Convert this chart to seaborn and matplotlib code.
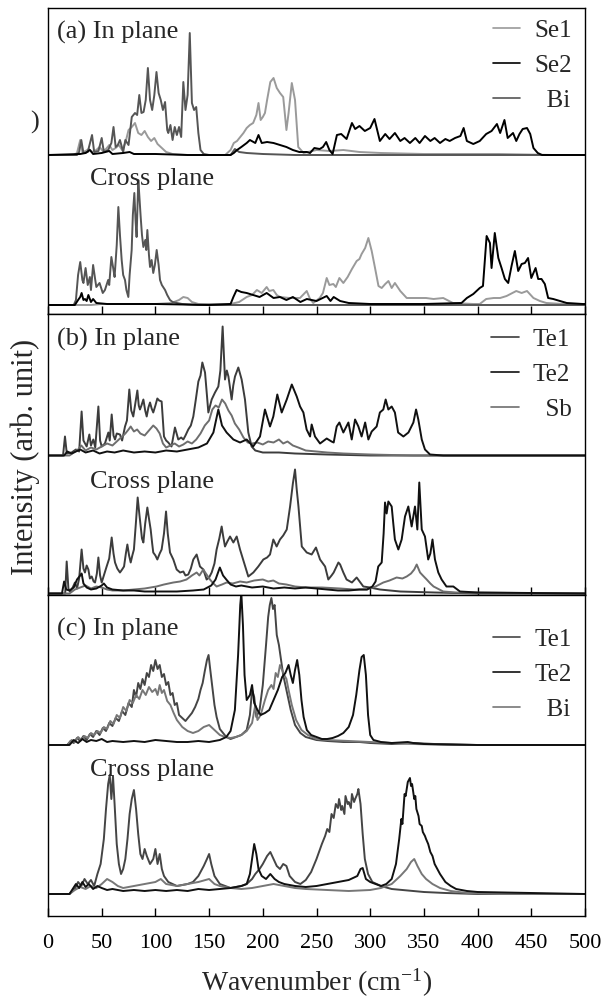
import numpy as np
import seaborn as sns
import matplotlib.pyplot as plt
from matplotlib.lines import Line2D

sns.set_theme(style="white")
plt.rcParams['font.family'] = ['Liberation Serif', 'DejaVu Serif']
plt.rcParams['mathtext.fontset'] = 'custom'
plt.rcParams['mathtext.rm'] = 'Liberation Serif'
plt.rcParams['mathtext.default'] = 'regular'

# (wavenumber, intensity) pairs, intensity in arb. units

# ---- (a) Se1 / Se2 / Bi ----
a_in_se1 = [(0,0),(24,0),(27,2),(30,15),(32,3),(35,4),(38,6),(41,3),(45,5),(48,8),(51,4),(54,6),(57,10),(60,5),(63,7),(66,10),(69,5),(72,12),(75,25),(78,28),(81,32),(84,22),(87,20),(90,24),(93,18),(96,14),(99,17),(102,11),(106,7),(110,3),(116,1),(130,0),(165,0),(170,5),(173,12),(176,14),(179,18),(182,22),(185,27),(188,30),(191,32),(194,40),(196,52),(198,35),(200,38),(202,42),(204,55),(207,73),(210,77),(213,67),(216,62),(219,58),(222,25),(224,42),(227,72),(230,55),(233,8),(238,2),(250,5),(262,4),(275,5),(290,3),(310,2),(350,1),(420,1),(470,0),(500,0)]
a_in_se2 = [(0,0),(30,1),(35,2),(39,5),(42,1),(50,2),(57,4),(60,1),(70,2),(76,3),(80,1),(100,1),(130,0),(170,0),(173,2),(176,5),(180,8),(185,12),(188,15),(193,12),(196,20),(199,12),(204,13),(210,12),(216,10),(222,8),(228,5),(234,3),(241,3),(244,2),(248,7),(253,6),(256,8),(259,13),(262,5),(265,1),(269,20),(273,21),(278,16),(283,32),(286,26),(290,29),(295,24),(300,27),(304,36),(309,14),(314,21),(318,16),(323,22),(328,14),(332,17),(337,12),(342,17),(346,12),(351,19),(356,14),(360,17),(365,12),(370,16),(374,14),(379,17),(384,19),(387,27),(390,14),(396,11),(402,14),(408,21),(413,24),(418,31),(421,22),(425,35),(428,17),(433,22),(436,14),(439,21),(442,26),(446,27),(449,21),(452,7),(456,2),(460,0),(500,0)]
a_in_bi = [(0,0),(27,0),(29,3),(31,15),(33,2),(37,3),(41,20),(43,3),(47,4),(50,17),(52,3),(56,5),(59,12),(61,28),(63,8),(65,10),(67,15),(70,3),(72,15),(75,10),(78,38),(81,42),(83,40),(85,60),(87,42),(89,43),(91,55),(93,87),(95,55),(97,45),(99,60),(101,83),(103,62),(105,55),(107,45),(109,53),(111,25),(112,22),(114,30),(116,15),(118,28),(120,20),(122,28),(124,18),(126,73),(128,45),(130,60),(132,122),(134,52),(136,45),(138,48),(140,22),(142,5),(145,1),(150,0),(170,0),(174,6),(178,3),(185,2),(200,1),(230,0),(500,0)]
a_cr_se1 = [(0,0),(40,0),(50,1),(100,1),(115,2),(122,5),(126,8),(130,7),(134,3),(140,1),(170,1),(178,3),(185,8),(190,10),(194.5,15),(199,12),(203.6,18),(206,14),(209.8,15),(213,10),(216,8),(225,7),(234.6,7),(240.9,14),(244,6),(247,2),(253,7),(256,12),(259.5,27),(262,20),(265.7,21),(268,18),(271.3,27),(275,22),(279,28),(283,36),(287.4,44),(290,46),(292,51),(295.3,57),(298.3,67),(301.4,54),(304.5,37),(307.7,19),(310.7,17),(314,21),(317,24),(320,17),(323,22),(328,14),(334,7),(343,7),(352,7),(359,6),(368,7),(377,2),(396,1),(402,1),(408,6),(415,7),(421,7),(427,9),(436,14),(441,12),(446,14),(452,7),(458,4),(464,2),(480,1),(500,0)]
a_cr_se2 = [(0,0),(25,0),(28,5),(30,8),(31.3,12),(33,5),(34.4,6),(36,4),(37.6,10),(40,3),(42,6),(45,2),(55,1),(100,1),(150,0),(170,1),(172.6,8),(175.6,15),(180,13),(185,12),(191,10),(197,8),(203.6,12),(210,7),(216,8),(222,5),(228,8),(235,3),(241,6),(250,4),(259.5,9),(263,4),(266,8),(272,4),(280,2),(300,1),(350,1),(385,2),(390,7),(396,11),(402,17),(405,19),(408.4,69),(411.5,62),(413,37),(416,72),(419.3,47),(422.3,37),(425.4,26),(428.5,22),(431.6,39),(434.7,54),(437.8,34),(441,41),(444,42),(447,47),(450,27),(454,37),(456.4,26),(459.5,26),(462.6,21),(465.7,7),(470.4,6),(483,2),(498,1),(500,1)]
a_cr_bi = [(0,0),(24,0),(26,5),(28,30),(30,43),(32,25),(33,22),(35,37),(37,20),(39,28),(40,15),(42,40),(44,25),(45,18),(48,22),(51,12),(53,15),(56,25),(57,20),(59,48),(61,35),(62,28),(64,60),(65.5,98),(67,70),(68.6,45),(70,30),(71.7,25),(73,15),(74.8,8),(76,30),(77.9,55),(79,90),(80.4,112),(81.5,85),(82.5,68),(83.5,105),(84.1,125),(85,110),(86.3,88),(87.5,70),(88.8,58),(90.6,65),(91.5,55),(92.5,75),(94,50),(95,38),(96.5,45),(98,32),(99.5,40),(101.2,55),(103,40),(104.3,25),(106,20),(109,15),(111,10),(113.6,5),(116,3),(120,2),(125,1),(140,0),(500,0)]

# ---- (b) Te1 / Te2 / Sb ----
b_in_te1 = [(0,0),(14,0),(15.8,19),(17.5,2),(22,3),(26,6),(29,4),(31.3,44),(33,15),(36,9),(38.5,21),(40,10),(42.2,16),(44,8),(46.9,49),(48.5,15),(50,9),(53,12),(56.2,23),(57.5,15),(59.3,41),(61,20),(62.4,16),(64,22),(67,21),(69,15),(71.7,29),(73.5,35),(75.7,66),(77.5,45),(79.4,39),(81,50),(83.2,65),(84.5,50),(85.6,46),(87,50),(88.8,56),(90.5,45),(91.9,39),(93.5,48),(95,53),(96.5,47),(98,43),(100,50),(101.8,57),(103.5,55),(105.8,54),(107,35),(108,19),(110,15),(112,13),(115,9),(118.2,28),(121.3,16),(124,18),(126,16),(128,20),(130.6,26),(133,30),(135.3,39),(137.5,55),(140,74),(142,80),(143.7,93),(146.2,83),(148,60),(149.3,43),(152.4,56),(155.5,63),(158.6,69),(160.5,85),(162.6,129),(164.8,76),(166.5,85),(168,79),(171,56),(172.5,70),(174.1,79),(177.2,88),(180.3,76),(183.4,56),(186.5,23),(189.6,9),(193,5),(200,3),(215,3),(230,2),(260,1),(300,0),(500,0)]
b_in_te2 = [(0,0),(15,0),(18,4),(22,2),(30,6),(35,3),(42,5),(48,2),(55,4),(62,3),(70,5),(80,3),(90,4),(100,3),(110,5),(120,4),(130,6),(140,8),(148,12),(154,23),(158.6,46),(162,30),(166.3,23),(169,20),(172.6,16),(178.8,13),(185,16),(191,9),(197.4,19),(202,46),(206.7,29),(209.8,39),(213.5,61),(217.6,43),(222.3,56),(227,71),(231.6,59),(234.7,49),(237.8,43),(240.8,26),(244,19),(245.5,31),(248.6,19),(253.3,12),(259.5,17),(264,14),(266,13),(268.8,29),(271.3,33),(275,23),(279.7,33),(282.8,16),(285.9,36),(289,29),(292,19),(295.3,33),(298.3,16),(301.4,24),(306,29),(309,43),(312.2,46),(314.4,56),(316.9,46),(320,49),(323,43),(326,23),(330.9,19),(335.6,23),(340.2,33),(342.7,46),(344.8,36),(348,16),(351,6),(355.7,1),(368,0),(500,0)]
b_in_sb = [(0,0),(20,0),(24,3),(28,6),(31,10),(35,5),(40,8),(45,6),(50,9),(55,12),(60,10),(64,14),(68,18),(72,22),(75,26),(77,29),(80,24),(83,26),(86,22),(90,20),(94,25),(98,30),(101,27),(104,22),(107,12),(110,8),(114,10),(118,12),(122,9),(126,11),(130,14),(134,12),(138,16),(142,22),(146,30),(150,35),(153,46),(156,50),(159,48),(162,56),(165,52),(168,45),(171,40),(174,32),(178,26),(182,18),(186,13),(190,12),(195,13),(200,11),(205,14),(210,13),(215,16),(219,12),(223,14),(228,10),(233,8),(240,5),(250,4),(260,3),(275,2),(300,1),(340,0),(500,0)]
b_cr_te1 = [(0,0),(16,0),(17.4,32),(19,5),(20.5,2),(23,6),(25.1,11),(27,5),(29,15),(31.3,44),(33,25),(34.4,21),(36,28),(37.6,24),(39,15),(40.7,17),(42.5,12),(43.8,11),(45.5,20),(46.9,36),(48.5,18),(50,11),(52,18),(54.6,27),(57,35),(59.3,56),(61,40),(62.4,31),(64.5,25),(67,21),(69,24),(70.8,27),(72.5,40),(73.9,49),(75.5,38),(77,31),(78.5,38),(80,44),(81.8,70),(83.5,96),(85,80),(86.3,67),(87.5,55),(88.8,51),(90.5,70),(92.5,86),(94,75),(95.6,64),(97,50),(98,41),(100,38),(101.8,34),(104,40),(105.8,44),(108,60),(109.9,82),(111.5,60),(113.6,41),(116.7,34),(119.8,24),(123,21),(126,22),(128,18),(130.6,19),(133,25),(135.3,34),(138.4,39),(141.5,27),(144.6,24),(147.7,14),(150,16),(152.4,21),(155,30),(157,44),(159.5,55),(161.7,67),(163,58),(164.8,47),(167,52),(169.5,57),(172.6,51),(175.7,57),(178.8,44),(182.5,31),(186.5,17),(191.2,21),(195.8,27),(200.5,34),(204,36),(206.7,39),(209.8,54),(212.9,47),(216,54),(219,58),(222.3,64),(225.4,87),(228,110),(230,124),(231.5,105),(233.2,87),(236.3,47),(240.9,41),(245.5,39),(249.5,46),(253.3,34),(258,27),(261,14),(264,18),(266,21),(270.4,31),(272,29),(275,21),(278,14),(283,11),(287.4,16),(293.6,7),(299.8,6),(309,4),(328,2),(360,1),(400,0),(500,0)]
b_cr_te2 = [(0,0),(13,0),(15,12),(17,4),(20,3),(24,6),(27,14),(30,18),(31.3,20),(33,10),(36,6),(40,4),(45,5),(50,8),(52,10),(55,6),(60,4),(70,3),(80,3),(90,2),(100,2),(120,2),(135,3),(145,4),(152,8),(156,14),(160,26),(163,18),(166,14),(170,9),(175,7),(180,8),(190,6),(200,7),(210,5),(220,6),(230,5),(240,6),(250,5),(260,4),(270,3),(280,3),(290,4),(297,4),(302,7),(305,12),(307.5,27),(310.7,31),(312.5,60),(313.8,91),(315.3,80),(316.9,92),(320,87),(321.5,70),(323,54),(326.2,44),(329.3,54),(332.4,77),(335.5,87),(338.6,67),(341.7,87),(343.9,64),(345.7,111),(348,64),(351,57),(354,34),(356,40),(358,54),(360.3,34),(363.4,21),(366.5,14),(371,7),(377.4,7),(383.6,2),(400,1),(500,0)]
b_cr_sb = [(0,0),(20,0),(25,4),(30,6),(35,8),(40,5),(45,7),(50,6),(55,4),(60,3),(70,3),(80,4),(90,5),(101,7),(108,9),(116.7,11),(123,12),(129,14),(134,18),(138.4,21),(141,18),(144.6,24),(147,20),(150.8,14),(154,10),(157,7),(162,9),(166.3,11),(172,10),(178.8,12),(185,11),(192,13),(200,14),(205,12),(209.8,13),(215,10),(222,9),(230,7),(241,6),(255,6),(272,5),(285,4),(297,4),(305,7),(312.2,11),(318,13),(324.6,16),(330,15),(334,17),(338,20),(341,24),(343.3,29),(346.4,21),(349,18),(352.6,14),(356,10),(359,7),(368,2),(380,1),(500,0)]

# ---- (c) Te1 / Te2 / Bi ----
c_in_te1 = [(0,0),(18,0),(21,4),(24,2),(27,7),(30,4),(33,9),(36,5),(39,11),(42,8),(45,14),(48,10),(51,17),(54,14),(57,22),(60,19),(63,27),(66,24),(69,34),(72,30),(75,42),(78,38),(80,55),(82,48),(84,62),(86,56),(88,66),(90,60),(92,72),(94,68),(96,80),(98,74),(100,85),(102,76),(104,80),(106,68),(108,71),(110,60),(112,63),(114,50),(116,52),(118,40),(120,42),(122,30),(125,27),(128,24),(131,28),(134,32),(137,38),(140,46),(142,55),(144,62),(146,74),(148,85),(149.5,90),(151,76),(153,58),(155,40),(157,28),(160,16),(163,12),(166,8),(170,6),(175,8),(180,10),(185,15),(188,30),(190,55),(192,48),(194,28),(197,35),(200,60),(203,100),(205,128),(206.5,140),(208,147),(209.5,136),(211,140),(213,110),(215,100),(217,85),(219,70),(222,55),(226,35),(230,20),(235,12),(240,8),(250,5),(260,4),(275,3),(290,3),(300,2),(320,1),(340,2),(360,1),(400,0),(500,0)]
c_in_te2 = [(0,0),(20,0),(24,5),(28,2),(32,6),(36,3),(40,5),(45,4),(50,6),(55,3),(60,4),(70,3),(80,4),(90,3),(100,5),(110,4),(120,3),(130,3),(140,4),(150,3),(160,5),(166,8),(170,14),(174,35),(177,90),(179,140),(180,152),(181.5,120),(183,70),(185,45),(188,50),(190,60),(192,42),(195,35),(198,30),(202,32),(206,35),(210,45),(214,55),(218,68),(221,72),(224,80),(226,70),(228,62),(230,75),(232,85),(234,70),(236,45),(238,28),(241,15),(245,10),(250,8),(255,6),(260,6),(265,7),(270,9),(275,12),(280,18),(284,30),(287,50),(290,75),(292,88),(294,90),(296,70),(298,30),(300,10),(303,5),(310,3),(320,2),(335,3),(340,2),(350,1),(400,0),(500,0)]
c_in_bi = [(0,0),(18,0),(22,5),(25,3),(28,8),(31,5),(34,9),(37,7),(40,12),(43,10),(46,14),(49,12),(52,18),(55,16),(58,24),(61,21),(64,30),(67,27),(70,38),(73,34),(76,45),(79,42),(82,50),(85,46),(88,55),(91,50),(94,58),(97,53),(100,56),(102,50),(104,60),(106,52),(108,55),(111,44),(114,40),(117,32),(120,25),(125,18),(130,14),(135,12),(140,14),(145,18),(150,20),(155,15),(160,10),(165,8),(170,7),(175,8),(180,10),(185,14),(190,22),(193,40),(195,25),(198,30),(202,45),(205,55),(208,60),(210,56),(212,72),(214,68),(216,80),(218,75),(220,70),(222,66),(224,55),(227,40),(231,25),(236,15),(242,10),(250,6),(260,5),(280,4),(300,3),(320,2),(340,1),(380,0),(500,0)]
c_cr_te1 = [(0,0),(20,0),(25,5),(28,12),(31,8),(34,15),(37,10),(40,14),(43,8),(46,20),(49,30),(52,55),(54,85),(56,110),(57.5,119),(59,95),(60.5,118),(62,90),(64,50),(66,30),(68,20),(70,25),(72,35),(74,55),(76,80),(78,95),(80,104),(82,85),(84,60),(86,40),(88,35),(90,45),(92,38),(95,30),(98,35),(100,45),(102,30),(104,40),(106,25),(108,18),(112,12),(116,10),(120,8),(125,9),(130,10),(135,12),(140,18),(145,28),(148,35),(150,40),(152,30),(155,18),(160,10),(165,8),(170,6),(175,7),(180,8),(185,10),(190,15),(193,20),(197,25),(200,30),(204,38),(207,42),(210,35),(213,28),(216,25),(219,30),(222,28),(225,18),(230,12),(235,10),(240,14),(245,22),(250,35),(255,50),(258,58),(260,65),(262,62),(264,80),(266,76),(268,90),(270,86),(271,95),(273,84),(274,88),(276,80),(277,98),(279,90),(280,92),(282,86),(283,100),(285,92),(286,95),(288,100),(289,105),(291,90),(293,60),(295,35),(298,20),(302,12),(310,8),(320,5),(330,4),(340,3),(350,2),(370,1),(400,0),(500,0)]
c_cr_te2 = [(0,0),(20,0),(23,5),(26,10),(29,6),(32,12),(35,7),(38,10),(42,5),(46,8),(50,6),(55,4),(60,5),(70,3),(80,4),(90,3),(100,4),(110,3),(120,4),(130,3),(140,5),(150,4),(160,5),(170,6),(180,8),(185,10),(188,20),(190,35),(192,50),(194,40),(196,25),(199,18),(203,15),(207,20),(211,15),(215,12),(220,10),(230,8),(240,7),(250,8),(260,10),(270,12),(280,14),(288,18),(291,25),(293,26),(296,15),(300,12),(305,10),(310,8),(315,10),(320,15),(324,30),(327,55),(329,75),(330,70),(332,100),(333,98),(335,112),(337,116),(338,108),(339,110),(341,95),(342,98),(343,85),(345,78),(346,70),(348,68),(349,62),(351,58),(352,55),(354,50),(356,42),(358,38),(360,30),(365,20),(370,12),(375,8),(380,5),(390,3),(400,2),(450,1),(500,0)]
c_cr_bi = [(0,0),(20,0),(25,4),(30,7),(35,5),(40,8),(45,6),(50,10),(55,15),(60,12),(65,8),(70,6),(80,8),(90,10),(100,12),(105,15),(110,10),(120,8),(130,10),(140,12),(150,15),(155,10),(160,8),(170,6),(180,5),(190,6),(200,8),(210,10),(220,8),(230,6),(240,5),(260,4),(280,3),(300,4),(310,6),(320,10),(328,18),(334,25),(338,32),(341,35),(344,28),(348,20),(352,15),(358,10),(365,6),(375,3),(390,1),(420,0),(500,0)]

panel_tags = ["(a) In plane", "(b) In plane", "(c) In plane"]
legend_names = [["Se1", "Se2", "  Bi"], ["Te1", "Te2", "  Sb"], ["Te1", "Te2", "  Bi"]]
xticks = list(range(0, 501, 50))

# layout (pixel rows of the 999 px tall figure)
W, H = 611, 999
boxes = [(8, 314), (314, 595), (595, 916)]
ylims = [(-9, 297), (-1.5, 279.5), (-22, 299)]
offsets = [150, 138, 149]
colors = [["#9a9a9a", "#000000", "#555555"],
          ["#3c3c3c", "#111111", "#6e6e6e"],
          ["#454545", "#111111", "#777777"]]
curves_in = [[a_in_se1, a_in_se2, a_in_bi], [b_in_te1, b_in_te2, b_in_sb], [c_in_te1, c_in_te2, c_in_bi]]
curves_cr = [[a_cr_se1, a_cr_se2, a_cr_bi], [b_cr_te1, b_cr_te2, b_cr_sb], [c_cr_te1, c_cr_te2, c_cr_bi]]
tag_y = [0.959, 0.952, 0.93]
cross_y = [0.478, 0.44, 0.49]
leg_y = [0.962, 0.948, 0.897]

fig = plt.figure(figsize=(W / 100, H / 100), dpi=100)
left, right = 48 / W, 585 / W

for i in range(3):
    top, bot = boxes[i]
    ax = fig.add_axes([left, 1 - bot / H, right - left, (bot - top) / H])
    draw_order = [0, 2, 1]  # black one last
    for k in draw_order:
        for pts, off in [(curves_cr[i][k], 0), (curves_in[i][k], offsets[i])]:
            wn = np.array([p[0] for p in pts])
            h = np.array([p[1] for p in pts]) + off
            sns.lineplot(x=wn, y=h, color=colors[i][k], lw=1.4, ax=ax,
                         estimator=None, sort=False)
    ax.set_xlim(0, 500)
    ax.set_ylim(*ylims[i])
    ax.set_yticks([])
    ax.set_xticks(xticks)
    ax.tick_params(axis='x', direction='in', length=6, width=1, bottom=True,
                   labelbottom=(i == 2), labelsize=16, pad=13, colors='black')
    for s in ax.spines.values():
        s.set_color('black')
        s.set_linewidth(1.0)
    ax.set_ylabel('')
    ax.set_xlabel('')
    ax.text(0.017, tag_y[i], panel_tags[i], transform=ax.transAxes,
            fontsize=19, va='top', ha='left')
    ax.text(0.078, cross_y[i], "Cross plane", transform=ax.transAxes,
            fontsize=19, va='top', ha='left')
    handles = [Line2D([0], [0], color=c, lw=1.2) for c in colors[i]]
    ax.legend(handles, legend_names[i], loc='upper right', bbox_to_anchor=(0.975, leg_y[i]),
              frameon=False, fontsize=18, handlelength=1.1, handletextpad=0.55,
              labelspacing=0.5, borderaxespad=0, borderpad=0)
    if i == 2:
        ax.set_xlabel("Wavenumber (cm$^{-1}$)", fontsize=20, labelpad=10)

fig.text(25 / W, 1 - 457 / H, "Intensity (arb. unit)", rotation=90,
         fontsize=22, ha='center', va='center')
fig.text(35 / W, 1 - 122 / H, ")", fontsize=19, ha='center', va='center')

plt.savefig("out.png", dpi=100)
